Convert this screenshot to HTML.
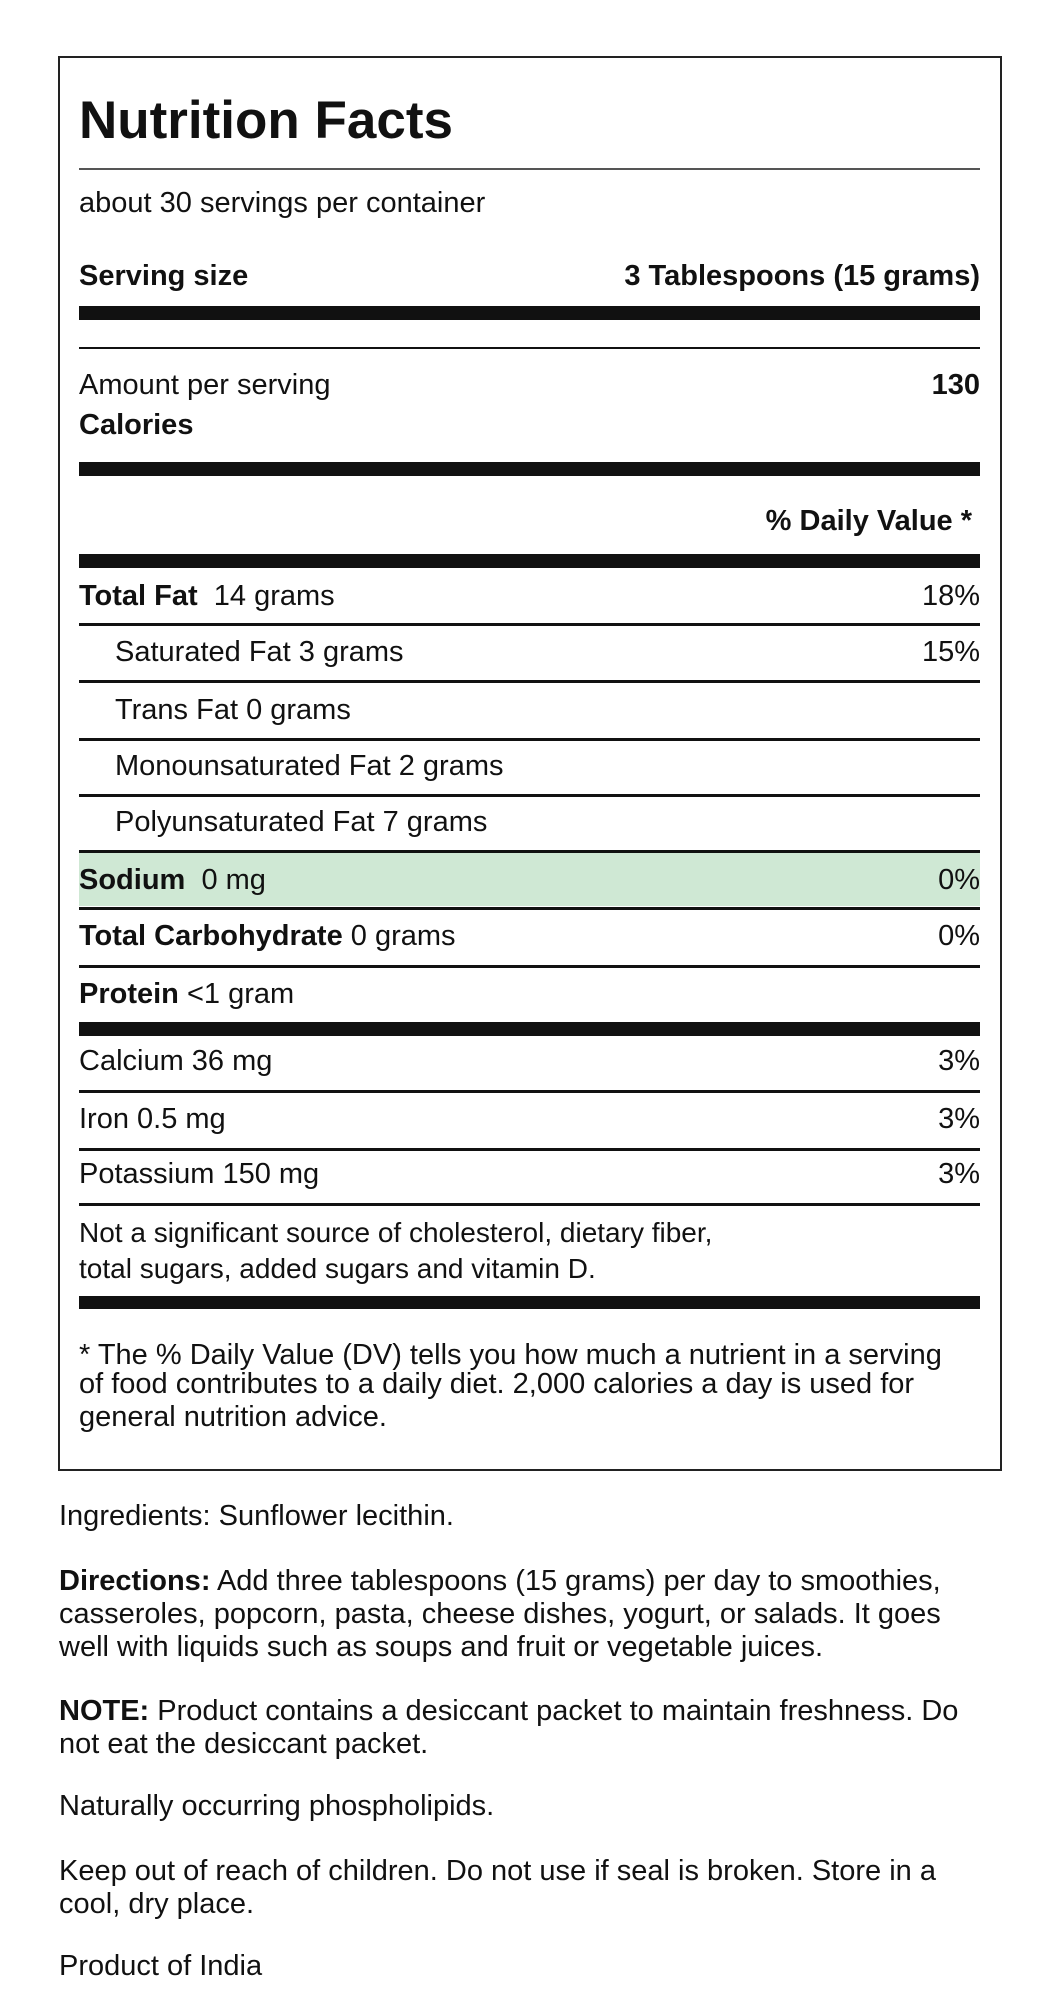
<!DOCTYPE html>
<html><head><meta charset="utf-8"><style>
html,body{margin:0;padding:0;background:#fff;}
body{width:1052px;height:2010px;position:relative;overflow:hidden;font-family:"Liberation Sans",Arial,sans-serif;color:#111;}
.t{position:absolute;font-size:29px;line-height:29px;white-space:nowrap;}
.r{position:absolute;right:72px;font-size:29px;line-height:29px;white-space:nowrap;text-align:right;}
.b{font-weight:bold;}
.hl{position:absolute;left:79px;width:901px;background:#111;}
#box{position:absolute;left:58px;top:56px;width:940px;height:1411px;border:2px solid #222;box-sizing:content-box;}
</style></head><body>
<div id="box"></div>
<div class="t b" style="left:79px;top:94px;font-size:53px;line-height:53px;">Nutrition Facts</div>
<div class="hl" style="top:168px;height:2px;background:#555"></div>
<div class="t" style="left:79px;top:189px;">about 30 servings per container</div>
<div class="t b" style="left:79px;top:262px;">Serving size</div>
<div class="r b" style="top:262px;">3 Tablespoons (15 grams)</div>
<div class="hl" style="top:306px;height:14px"></div>
<div class="hl" style="top:347px;height:2px"></div>
<div class="t" style="left:79px;top:371px;">Amount per serving</div>
<div class="r b" style="top:371px;">130</div>
<div class="t b" style="left:79px;top:411px;">Calories</div>
<div class="hl" style="top:462px;height:14px"></div>
<div class="r b" style="top:507px;right:80px;">% Daily Value *</div>
<div class="hl" style="top:554px;height:14px"></div>
<div class="t" style="left:79px;top:582px;"><b>Total Fat</b>&nbsp; 14 grams</div>
<div class="r" style="top:582px;">18%</div>
<div class="hl" style="top:623px;height:3px"></div>
<div class="t" style="left:115px;top:638px;">Saturated Fat 3 grams</div>
<div class="r" style="top:638px;">15%</div>
<div class="hl" style="top:680px;height:3px"></div>
<div class="t" style="left:115px;top:696px;">Trans Fat 0 grams</div>
<div class="hl" style="top:738px;height:3px"></div>
<div class="t" style="left:115px;top:752px;">Monounsaturated Fat 2 grams</div>
<div class="hl" style="top:794px;height:3px"></div>
<div class="t" style="left:115px;top:808px;">Polyunsaturated Fat 7 grams</div>
<div class="hl" style="top:850px;height:3px"></div>
<div class="hl" style="top:853px;height:53px;background:#cfe8d4"></div>
<div class="t" style="left:79px;top:866px;"><b>Sodium</b>&nbsp; 0 mg</div>
<div class="r" style="top:866px;">0%</div>
<div class="hl" style="top:907px;height:3px"></div>
<div class="t" style="left:79px;top:922px;"><b>Total Carbohydrate</b> 0 grams</div>
<div class="r" style="top:922px;">0%</div>
<div class="hl" style="top:965px;height:3px"></div>
<div class="t" style="left:79px;top:980px;"><b>Protein</b> &lt;1 gram</div>
<div class="hl" style="top:1022px;height:14px"></div>
<div class="t" style="left:79px;top:1047px;">Calcium 36 mg</div>
<div class="r" style="top:1047px;">3%</div>
<div class="hl" style="top:1090px;height:3px"></div>
<div class="t" style="left:79px;top:1105px;">Iron 0.5 mg</div>
<div class="r" style="top:1105px;">3%</div>
<div class="hl" style="top:1148px;height:3px"></div>
<div class="t" style="left:79px;top:1160px;">Potassium 150 mg</div>
<div class="r" style="top:1160px;">3%</div>
<div class="hl" style="top:1203px;height:3px"></div>
<div class="t" style="left:79px;top:1218px;font-size:28px;">Not a significant source of cholesterol, dietary fiber,</div>
<div class="t" style="left:79px;top:1254px;font-size:28px;">total sugars, added sugars and vitamin D.</div>
<div class="hl" style="top:1296px;height:13px"></div>
<div class="t" style="left:79px;top:1341px;">* The % Daily Value (DV) tells you how much a nutrient in a serving</div>
<div class="t" style="left:79px;top:1370px;">of food contributes to a daily diet. 2,000 calories a day is used for</div>
<div class="t" style="left:79px;top:1403px;">general nutrition advice.</div>

<div class="t" style="left:59px;top:1502px;">Ingredients: Sunflower lecithin.</div>
<div class="t" style="left:59px;top:1567px;"><b>Directions:</b> Add three tablespoons (15 grams) per day to smoothies,</div>
<div class="t" style="left:59px;top:1600px;">casseroles, popcorn, pasta, cheese dishes, yogurt, or salads. It goes</div>
<div class="t" style="left:59px;top:1633px;">well with liquids such as soups and fruit or vegetable juices.</div>
<div class="t" style="left:59px;top:1697px;"><b>NOTE:</b> Product contains a desiccant packet to maintain freshness. Do</div>
<div class="t" style="left:59px;top:1730px;">not eat the desiccant packet.</div>
<div class="t" style="left:59px;top:1792px;">Naturally occurring phospholipids.</div>
<div class="t" style="left:59px;top:1857px;">Keep out of reach of children. Do not use if seal is broken. Store in a</div>
<div class="t" style="left:59px;top:1890px;">cool, dry place.</div>
<div class="t" style="left:59px;top:1952px;">Product of India</div>
</body></html>
